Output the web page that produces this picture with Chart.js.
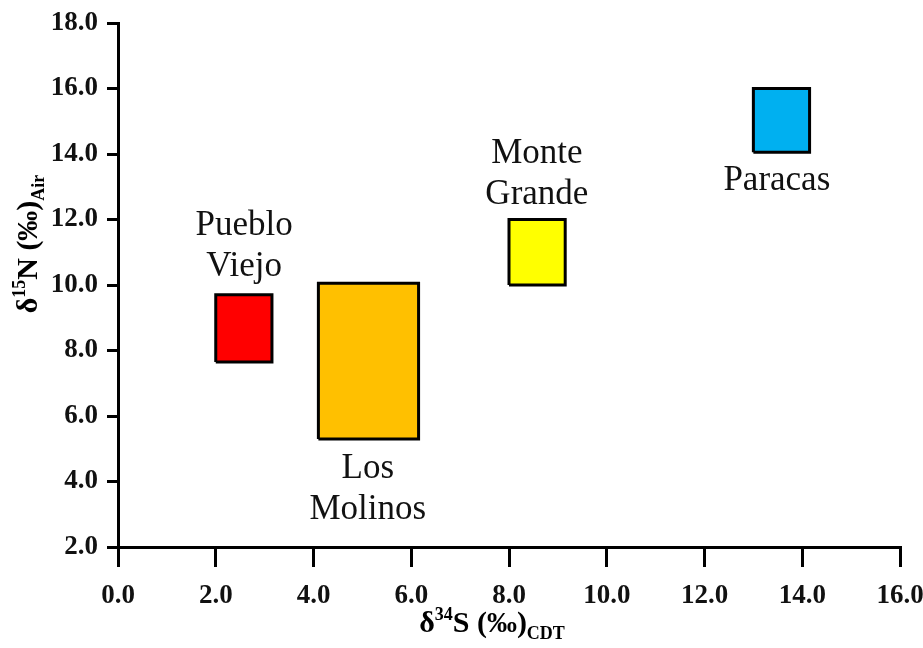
<!DOCTYPE html>
<html><head><meta charset="utf-8">
<script src="https://cdn.jsdelivr.net/npm/chart.js@4"></script>
<style>html,body{margin:0;padding:0;background:#fff}#wrap{width:923px;height:648px;position:relative}
.pre{position:absolute;left:-9999px;font-family:"Liberation Serif"}</style>
</head><body><span class="pre">Pueblo</span><span class="pre" style="font-weight:bold">18.0 δ‰</span>
<div id="wrap"><canvas id="c" width="923" height="648"></canvas></div>
<script>
// ---- data ----
const sites = ['Pueblo Viejo', 'Los Molinos', 'Monte Grande', 'Paracas'];
const s34Min = [2.0, 4.1, 8.0, 13.0];
const s34Max = [3.15, 6.15, 9.15, 14.15];
const n15Min = [7.65, 5.3, 10.0, 14.05];
const n15Max = [9.7, 10.05, 12.0, 16.0];
const boxColors = ['#FF0000', '#FFC000', '#FFFF00', '#00B0F0'];
const xTicks = [0, 2, 4, 6, 8, 10, 12, 14, 16];
const yTicks = [2, 4, 6, 8, 10, 12, 14, 16, 18];
const labelLines = [['Pueblo', 'Viejo'], ['Los', 'Molinos'], ['Monte', 'Grande'], ['Paracas']];
const labelX = [2.58, 5.11, 8.57, 13.48];
const labelY = [11.53, 4.11, 13.72, 12.9];

const SERIF = '"Liberation Serif", "Times New Roman", serif';

const datasets = sites.map((name, i) => ({
  label: name,
  data: [
    {x: s34Min[i], y: n15Min[i]},
    {x: s34Max[i], y: n15Min[i]},
    {x: s34Max[i], y: n15Max[i]},
    {x: s34Min[i], y: n15Max[i]},
    {x: s34Min[i], y: n15Min[i]}
  ],
  showLine: true,
  fill: 'shape',
  backgroundColor: boxColors[i],
  borderColor: '#000',
  borderWidth: 3,
  borderJoinStyle: 'miter',
  pointRadius: 0,
  tension: 0
}));

function drawRuns(ctx, runs, cx, cy) {
  let total = 0;
  runs.forEach(r => { ctx.font = r.f; r.w = ctx.measureText(r.t).width; total += r.w; });
  let x = cx - total / 2;
  ctx.textAlign = 'left';
  ctx.textBaseline = 'alphabetic';
  runs.forEach(r => { ctx.font = r.f; ctx.fillText(r.t, x, cy + r.dy); x += r.w; });
}

const decorPlugin = {
  id: 'decor',
  afterDatasetsDraw(chart) {
    const ctx = chart.ctx;
    const xs = chart.scales.x, ys = chart.scales.y;
    ctx.save();
    ctx.fillStyle = '#111';
    ctx.font = 'normal 400 35px ' + SERIF;
    ctx.textAlign = 'center';
    ctx.textBaseline = 'alphabetic';
    labelLines.forEach((lines, i) => {
      const px = xs.getPixelForValue(labelX[i]);
      const py = ys.getPixelForValue(labelY[i]);
      lines.forEach((t, k) => ctx.fillText(t, px, py + k * 41));
    });
    ctx.restore();

    ctx.save();
    ctx.fillStyle = '#000';
    const big = 'bold 30px ' + SERIF, small = 'bold 18px ' + SERIF;
    drawRuns(ctx, [
      {t: 'δ', f: big, dy: 0}, {t: '34', f: small, dy: -12},
      {t: 'S (‰)', f: big, dy: 0}, {t: 'CDT', f: small, dy: 7}
    ], 492, 632);
    ctx.translate(37, 244);
    ctx.rotate(-Math.PI / 2);
    drawRuns(ctx, [
      {t: 'δ', f: big, dy: 0}, {t: '15', f: small, dy: -12},
      {t: 'N (‰)', f: big, dy: 0}, {t: 'Air', f: small, dy: 7}
    ], 0, 0);
    ctx.restore();
  }
};

const tickFont = {family: SERIF, size: 27, weight: 'bold'};

function build() {
  new Chart(document.getElementById('c'), {
    type: 'scatter',
    data: {datasets},
    options: {
      responsive: false,
      animation: false,
      events: [],
      layout: {padding: {left: 0, right: 23, top: 23, bottom: 0}},
      plugins: {legend: {display: false}, tooltip: {enabled: false}},
      scales: {
        x: {
          type: 'linear', min: xTicks[0], max: xTicks[xTicks.length - 1],
          afterBuildTicks: s => { s.ticks = xTicks.map(v => ({value: v})); },
          ticks: {callback: v => Number(v).toFixed(1), font: tickFont, color: '#111', padding: 13, maxRotation: 0, autoSkip: false},
          grid: {drawOnChartArea: false, drawTicks: true, tickLength: 20, tickWidth: 3, tickColor: '#000', color: '#000', lineWidth: 3},
          border: {display: true, width: 3, color: '#000'},
          afterFit: s => { s.height = 101; s.paddingLeft = 0; s.paddingRight = 0; }
        },
        y: {
          type: 'linear', min: yTicks[0], max: yTicks[yTicks.length - 1],
          afterBuildTicks: s => { s.ticks = yTicks.map(v => ({value: v})); },
          ticks: {callback: v => Number(v).toFixed(1), font: tickFont, color: '#111', padding: 9, autoSkip: false},
          grid: {drawOnChartArea: false, drawTicks: true, tickLength: 11, tickWidth: 3, tickColor: '#000', color: '#000', lineWidth: 3},
          border: {display: true, width: 3, color: '#000'},
          afterFit: s => { s.width = 118; s.paddingTop = 0; s.paddingBottom = 0; }
        }
      }
    },
    plugins: [decorPlugin]
  });
}
Promise.all([
  document.fonts.load('35px "Liberation Serif"'),
  document.fonts.load('bold 30px "Liberation Serif"')
]).then(build, build);
</script></body></html>
